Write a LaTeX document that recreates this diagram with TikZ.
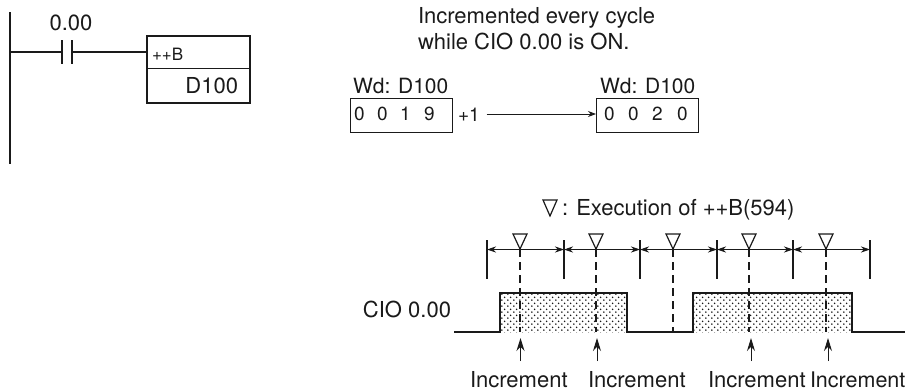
\documentclass[tikz,border=0pt]{standalone}
\usepackage{fontspec}
\setmainfont{TeX Gyre Heros}
\usetikzlibrary{patterns,arrows.meta}
\definecolor{ink}{HTML}{1A1A1A}
\pgfdeclarepatternformonly{stipple}{\pgfqpoint{-1pt}{-1pt}}{\pgfqpoint{5.2pt}{5.2pt}}{\pgfqpoint{6.2pt}{6.2pt}}{
  \pgfpathcircle{\pgfqpoint{0pt}{0pt}}{0.95pt}
  \pgfpathcircle{\pgfqpoint{3.1pt}{3.1pt}}{0.95pt}
  \pgfusepath{fill}
}
\tikzset{
  lbl/.style={inner sep=0pt,outer sep=0pt,anchor=base west,text=ink,font=\fontsize{22}{26}\selectfont},
  lbr/.style={lbl,anchor=base east},
  wd/.style={lbl,font=\fontsize{21}{25}\selectfont},
  dig/.style={inner sep=0pt,anchor=base west,text=ink,font=\fontsize{19}{23}\selectfont},
  wire/.style={draw=ink,line width=1.4pt},
  tick/.style={draw=ink,line width=1.2pt},
  dim/.style={draw=ink,line width=1pt,{Stealth[length=9pt,width=6pt]}-{Stealth[length=9pt,width=6pt]}},
  exec/.style={draw=ink,line width=1.2pt,dash pattern=on 8pt off 5pt},
  tri/.style={draw=ink,line width=1.2pt,fill=white,line join=miter},
  up/.style={draw=ink,line width=1pt,-{Stealth[length=13pt,width=8pt]}},
  regbox/.style={draw=ink,line width=1.1pt},
}
\begin{document}
\begin{tikzpicture}[x=1pt,y=-1pt]
\useasboundingbox (0,0) rectangle (906,391);
% ladder
\coordinate (railT) at (10,12);
\coordinate (railB) at (10,164);
\coordinate (railM) at (10,52);
\coordinate (cL) at (62,52);
\coordinate (cR) at (72,52);
\draw[wire,line width=1.9pt] (railT) -- (railB);
\draw[wire,line width=1.6pt] (railM) -- (cL);
\draw[wire,line width=1.6pt] (62,40) -- (62,64);
\draw[wire,line width=1.6pt] (72,40) -- (72,64);
\node[lbl,anchor=base] (addr) at (71,30) {0.00};
\node[draw=ink,line width=1.6pt,minimum width=103pt,minimum height=67pt,inner sep=0pt,anchor=north west] (fb) at (146,35) {};
\draw[wire,line width=1.6pt] (cR) -- (fb.west |- cR);
\draw[draw=ink,line width=0.7pt] (fb.west |- 0,68.5) -- (fb.east |- 0,68.5);
\node[lbl,font=\fontsize{17}{20}\selectfont] (op) at (152,60) {++B};
\node[lbr] (operand) at (238,93) {D100};
% note
\node[lbl] (note1) at (418,23) {Incremented every cycle};
\node[lbl] (note2) at (418,49) {while CIO 0.00 is ON.};
% registers
\node[wd] (wd1) at (353,93) {Wd: D100};
\node[wd] (wd2) at (600,93) {Wd: D100};
\node[regbox,minimum width=102pt,minimum height=34pt,inner sep=0pt,anchor=north west] (reg1) at (350,97.5) {};
\node[regbox,minimum width=102pt,minimum height=34pt,inner sep=0pt,anchor=north west] (reg2) at (596,97.5) {};
\foreach \x/\d [count=\i] in {354/0,377/0,400/1,424/9} \node[dig] (a\i) at (\x,120) {\d};
\foreach \x/\d [count=\i] in {604/0,628/0,652/2,677/0} \node[dig] (b\i) at (\x,120) {\d};
\node[lbl,font=\fontsize{19}{23}\selectfont] (plus) at (458,121) {+1};
\draw[draw=ink,line width=0.9pt,-{Stealth[length=8pt,width=6pt]}] (plus.east |- 0,114) ++(7,0) -- (reg2.west |- 0,114);
% legend
\draw[tri] (543,200) -- (557,200) -- (550,216) -- cycle;
\node[lbl] (legend) at (562,215) {: Execution of ++B(594)};
% timing signal
\node[lbr] (cio) at (451,317) {CIO 0.00};
\fill[pattern=stipple,pattern color=black!90] (500,293) rectangle (627,332);
\fill[pattern=stipple,pattern color=black!90] (693,293) rectangle (852,332);
\draw[wire,line join=miter] (454,332) -- (500,332) -- (500,293) -- (627,293) -- (627,332) -- (693,332) -- (693,293) -- (852,293) -- (852,332) -- (905,332);
% cycle ticks
\foreach \x/\n in {487/t0,564/t1,640/t2,717/t3,793/t4,870/t5} {
  \coordinate (\n a) at (\x,240);
  \coordinate (\n b) at (\x,279);
  \coordinate (\n m) at (\x,249.5);
  \draw[tick] (\n a) -- (\n b);
}
\foreach \a/\b in {t0/t1,t1/t2,t2/t3,t3/t4,t4/t5} \draw[dim] (\a m) -- (\b m);
% executions
\foreach \x/\n in {520/e1,596/e2,673/e3,749/e4,826/e5} {
  \coordinate (\n t) at (\x,249);
  \coordinate (\n b) at (\x,332);
  \draw[exec] (\n t) -- (\n b);
  \draw[tri] (\x-7,234) -- (\x+7,234) -- (\n t) -- cycle;
}
% increments
\foreach \x/\ax/\n in {470/520.5/i1,588/597/i2,708/751/i3} {
  \node[lbl] (\n) at (\x,387) {Increment};
  \coordinate (\n h) at (\ax,338);
  \coordinate (\n s) at (\ax,361);
  \draw[up] (\n s) -- (\n h);
}
\node[lbl,font=\fontsize{21.5}{26}\selectfont] (i4) at (810,387) {Increment};
\coordinate (i4h) at (828,338);
\coordinate (i4s) at (828,361);
\draw[up] (i4s) -- (i4h);
\end{tikzpicture}
\end{document}
